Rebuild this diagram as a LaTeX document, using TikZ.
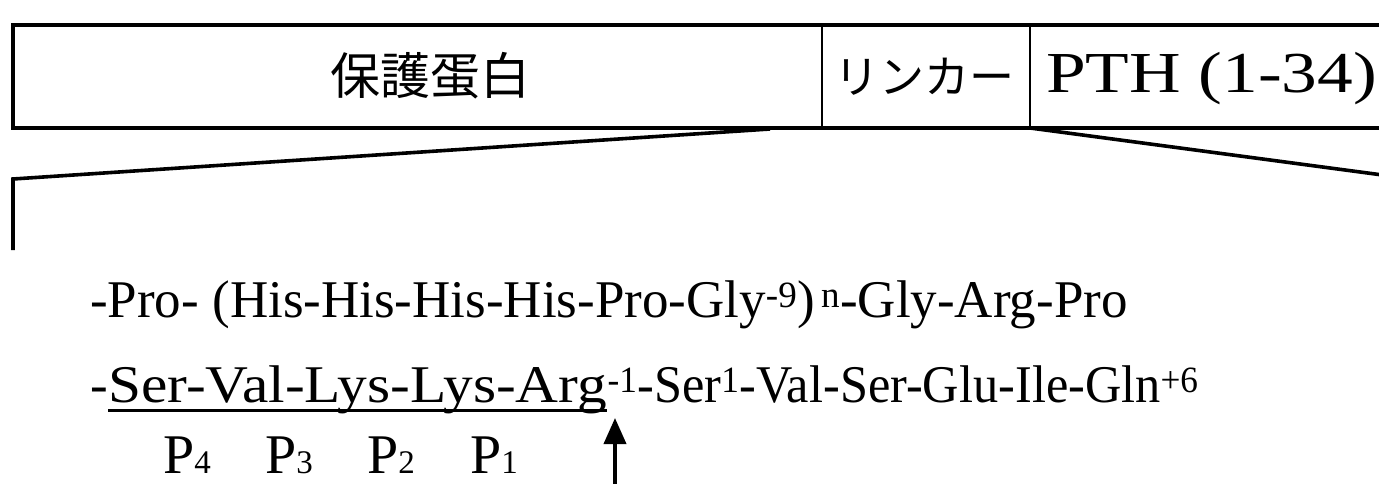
\documentclass[tikz,border=0pt]{standalone}
\usepackage{fontspec}
\setmainfont{Liberation Serif}
\newfontfamily\jp{Noto Sans CJK JP}
\usetikzlibrary{arrows.meta}
\begin{document}
\begin{tikzpicture}[x=1pt,y=-1pt,
  boxline/.style={line width=3.6pt},
  divline/.style={line width=2.2pt},
  zoomline/.style={line width=3.6pt},
  seq/.style={inner sep=0pt, anchor=base west, font=\fontsize{53}{60}\selectfont},
  jplabel/.style={inner sep=0pt, font=\jp\fontsize{50}{60}\selectfont},
  plabel/.style={inner sep=0pt, anchor=base west, font=\fontsize{56}{60}\selectfont},
  cutarrow/.style={line width=3.8pt, -{Triangle[length=26pt,width=22pt]}}]
\useasboundingbox (0,0) rectangle (1379,484);
\clip (0,0) rectangle (1379,484);
% top bar
\draw[boxline] (1390,25) -- (13,25) -- (13,128) -- (1390,128);
\draw[divline] (822,25) -- (822,128);
\draw[divline] (1030,25) -- (1030,128);
\node[jplabel] (prot) at (430,76) {保護蛋白};
\node[jplabel, font=\jp\fontsize{45}{50}\selectfont] (linker) at (924,77) {リンカー};
\node[inner sep=0pt, anchor=base west, font=\fontsize{58}{60}\selectfont] (pth) at (1046,93) {\scalebox{1.23}[1]{PTH (1-34)}};
% zoom lines
\coordinate (lkL) at (770,129);
\coordinate (lkR) at (1030,128);
\coordinate (zl) at (13,179);
\coordinate (zb) at (13,250);
\coordinate (zr) at (1390,176);
\draw[zoomline] (lkL) -- (zl) -- (zb);
\draw[zoomline] (lkR) -- (zr);
% sequence
\node[seq] (l1) at (90,317) {-Pro- (His-His-His-His-Pro-Gly\textsuperscript{-9})\textsuperscript{\,n}-Gly-Arg-Pro};
\node[seq] (l2a) at (90,402) {-};
\node[seq] (l2b) at (l2a.base east) {\scalebox{1.12}[1]{Ser-Val-Lys-Lys-Arg}};
\node[seq] (l2c) at (l2b.base east) {\scalebox{0.95}[1]{\textsuperscript{-1}-Ser\textsuperscript{1}-Val-Ser-Glu-Ile-Gln\textsuperscript{+6}}};
\draw[line width=3pt] ([yshift=-8pt]l2b.base west) -- ([yshift=-8pt]l2b.base east);
% P labels
\node[plabel] (p4) at (163,473) {P{\fontsize{33}{33}\selectfont 4}};
\node[plabel] (p3) at (265,473) {P{\fontsize{33}{33}\selectfont 3}};
\node[plabel] (p2) at (367,473) {P{\fontsize{33}{33}\selectfont 2}};
\node[plabel] (p1) at (470,473) {P{\fontsize{33}{33}\selectfont 1}};
\coordinate (arrbot) at (615,490);
\coordinate (arrtop) at (615,418);
\draw[cutarrow] (arrbot) -- (arrtop);
\end{tikzpicture}
\end{document}
